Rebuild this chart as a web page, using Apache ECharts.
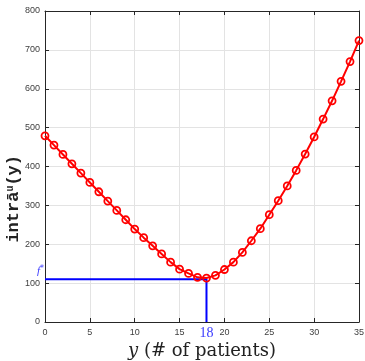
<!DOCTYPE html>
<html>
<head>
<meta charset="utf-8">
<script src="https://cdn.jsdelivr.net/npm/echarts@6/dist/echarts.min.js"></script>
<style>html,body{margin:0;padding:0;background:#fff}#c{width:365px;height:361px}</style>
</head>
<body>
<div id="c"></div>
<script>
var patients = [0,1,2,3,4,5,6,7,8,9,10,11,12,13,14,15,16,17,18,19,20,21,22,23,24,25,26,27,28,29,30,31,32,33,34,35];
var intraValues = [479,455,431,407,383,359,335,311,287,263,239,217,196,175,154,136,125,115,113,120,135,154,179,209,240,276,312,350,390,432,476,522,569,619,670,724];
var fStar = 110;
var yStar = 18;
var xTicks = {min: 0, max: 35, interval: 5};
var yTicks = {min: 0, max: 800, interval: 100};

var chart = echarts.init(document.getElementById('c'));
var axisColor = '#262626';
var curve = patients.map(function (p, i) { return [p, intraValues[i]]; });
var optLine = [
  [xTicks.min, fStar],
  [yStar, fStar],
  [yStar, yTicks.min]
];
chart.setOption({
  animation: false,
  grid: {left: 45, right: 6, top: 11, bottom: 39, outerBoundsMode: 'none', containLabel: false},
  xAxis: [{
    type: 'value', min: xTicks.min, max: xTicks.max, interval: xTicks.interval,
    axisLine: {lineStyle: {color: axisColor, width: 1}},
    axisTick: {inside: true, length: 4, lineStyle: {color: axisColor}},
    axisLabel: {color: '#404040', fontSize: 9, fontFamily: 'Liberation Sans', margin: 6},
    splitLine: {show: true, lineStyle: {color: '#e3e3e3', width: 1}},
    name: '{i|y} (# of patients)', nameLocation: 'middle', nameGap: 17,
    nameTextStyle: {color: '#222', fontSize: 18, fontFamily: 'DejaVu Serif',
      rich: {i: {fontStyle: 'italic', fontSize: 18, fontFamily: 'DejaVu Serif', color: '#222'}}}
  }, {
    type: 'value', position: 'top', min: xTicks.min, max: xTicks.max, interval: xTicks.interval,
    axisLine: {show: true, onZero: false, lineStyle: {color: axisColor, width: 1}},
    axisTick: {inside: true, length: 4, lineStyle: {color: axisColor}},
    axisLabel: {show: false}, splitLine: {show: false}
  }],
  yAxis: [{
    type: 'value', min: yTicks.min, max: yTicks.max, interval: yTicks.interval,
    axisLine: {show: true, lineStyle: {color: axisColor, width: 1}},
    axisTick: {show: true, inside: true, length: 4, lineStyle: {color: axisColor}},
    axisLabel: {color: '#404040', fontSize: 9, fontFamily: 'Liberation Sans', margin: 5},
    splitLine: {show: true, lineStyle: {color: '#e3e3e3', width: 1}}
  }, {
    type: 'value', position: 'right', min: yTicks.min, max: yTicks.max, interval: yTicks.interval,
    axisLine: {show: true, onZero: false, lineStyle: {color: axisColor, width: 1}},
    axisTick: {show: true, inside: true, length: 4, lineStyle: {color: axisColor}},
    axisLabel: {show: false}, splitLine: {show: false}
  }],
  series: [{
    type: 'line', data: optLine, symbol: 'none', z: 3,
    lineStyle: {color: '#0000ff', width: 2}
  }, {
    type: 'scatter', z: 4, symbolSize: 0, silent: true,
    data: [
      {value: [xTicks.min, fStar], label: {show: true, position: [-8, -14], formatter: '{f|f}{s|*}',
        rich: {f: {fontStyle: 'italic', fontFamily: 'Liberation Serif', fontSize: 11, color: '#0000ff'},
               s: {fontFamily: 'DejaVu Sans', fontSize: 8, color: '#0000ff', padding: [0, 0, 4, 0]}}}},
      {value: [yStar, yTicks.min], label: {show: true, position: 'bottom', formatter: String(yStar), distance: 4,
        fontFamily: 'Liberation Serif', fontSize: 14, color: '#0000ff'}}
    ]
  }, {
    type: 'line', data: curve, z: 5,
    symbol: 'circle', symbolSize: 7,
    lineStyle: {color: '#ff0000', width: 2},
    itemStyle: {color: 'transparent', borderColor: '#ff0000', borderWidth: 1.8}
  }],
  graphic: [{
    type: 'text', left: 5, top: 155, rotation: Math.PI / 2,
    style: {
      text: '{b|intrā}{s|u}{b|(y)}',
      rich: {
        b: {fontFamily: 'Liberation Mono', fontWeight: 'bold', fontSize: 17, fill: '#222'},
        s: {fontFamily: 'Liberation Mono', fontWeight: 'bold', fontSize: 10, fill: '#222', verticalAlign: 'top'}
      }
    }
  }]
});
</script>
</body>
</html>
